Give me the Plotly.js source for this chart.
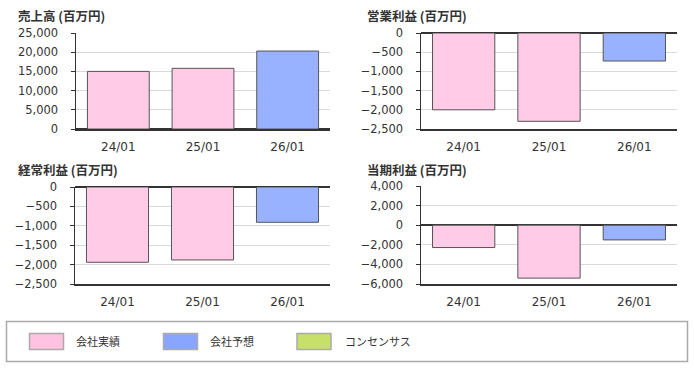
<!DOCTYPE html>
<html>
<head>
<meta charset="utf-8">
<script src="https://cdn.plot.ly/plotly-3.0.1.min.js"></script>
<style>html,body{margin:0;padding:0;background:#fff;}#chart{width:694px;height:368px;}</style>
</head>
<body>
<div id="chart"></div>
<script>
// ---- data ----
const categories = ['24/01', '25/01', '26/01'];
const barKinds = ['actual', 'actual', 'forecast'];
const salesValues = [15000, 15800, 20300];
const operatingValues = [-2000, -2300, -730];
const ordinaryValues = [-1940, -1880, -910];
const netValues = [-2280, -5400, -1500];
const panelTitles = ['売上高 (百万円)', '営業利益 (百万円)', '経常利益 (百万円)', '当期利益 (百万円)'];
const legendNames = ['会社実績', '会社予想', 'コンセンサス'];

// ---- styles ----
const W = 694, H = 368;
const barFill = {actual: '#ffcbe6', forecast: '#99b2ff'};
const legendFill = ['#ffc2e0', '#88a6ff', '#c6e06a'];
const px = v => v / W;
const py = v => 1 - v / H;

const panels = [
  {vals: salesValues, x: [76, 330], y: [33, 129], range: [0, 25000], dtick: 5000, tx: 17, ty: 16},
  {vals: operatingValues, x: [421, 677], y: [33, 129], range: [-2500, 0], dtick: 500, tx: 366, ty: 16},
  {vals: ordinaryValues, x: [75, 330], y: [187, 284], range: [-2500, 0], dtick: 500, tx: 17, ty: 170},
  {vals: netValues, x: [421, 677], y: [186, 284], range: [-6000, 4000], dtick: 2000, tx: 366, ty: 170}
];

const traces = [];
const layout = {
  width: W, height: H,
  margin: {l: 0, r: 0, t: 0, b: 0},
  paper_bgcolor: '#fff', plot_bgcolor: '#fff',
  showlegend: false,
  bargap: 0.27,
  font: {family: 'DejaVu Sans, sans-serif', color: '#333', size: 12},
  annotations: [],
  shapes: []
};

panels.forEach((p, i) => {
  const n = i === 0 ? '' : String(i + 1);
  traces.push({
    type: 'bar',
    x: categories,
    y: p.vals,
    xaxis: 'x' + n,
    yaxis: 'y' + n,
    marker: {color: barKinds.map(k => barFill[k]), line: {color: '#555', width: 1}},
    hoverinfo: 'skip'
  });
  layout['xaxis' + n] = {
    domain: [px(p.x[0]), px(p.x[1])],
    anchor: 'y' + n,
    type: 'category',
    range: [-0.5, 2.5],
    showgrid: false,
    showline: true, linecolor: '#333', linewidth: 2,
    ticks: '', ticklabelstandoff: 6,
    tickfont: {size: 12, color: '#333', family: 'DejaVu Sans, sans-serif'},
    fixedrange: true
  };
  layout['yaxis' + n] = {
    domain: [py(p.y[1]), py(p.y[0])],
    anchor: 'x' + n,
    range: p.range,
    dtick: p.dtick, tick0: 0,
    tickformat: ',d',
    showgrid: true, gridcolor: '#d9d9d9', gridwidth: 1,
    zeroline: true, zerolinecolor: '#333', zerolinewidth: 2,
    showline: true, linecolor: '#333', linewidth: 1.5,
    ticks: 'outside', ticklen: 4, tickcolor: '#333',
    ticklabelstandoff: 10,
    tickfont: {size: 11.5, color: '#333', family: 'DejaVu Sans, sans-serif'},
    fixedrange: true
  };
  layout.annotations.push({
    xref: 'paper', yref: 'paper', x: px(p.tx), y: py(p.ty),
    xanchor: 'left', yanchor: 'middle', showarrow: false,
    borderpad: 0,
    text: '<b>' + panelTitles[i] + '</b>',
    font: {size: 12.5, color: '#333', family: 'Noto Sans CJK JP, sans-serif'}
  });
});

// legend box
layout.shapes.push({
  type: 'rect', xref: 'paper', yref: 'paper',
  x0: px(6.5), x1: px(687.5), y0: py(361.5), y1: py(321.5),
  line: {color: '#aaa', width: 1.5}, fillcolor: 'rgba(0,0,0,0)'
});
const swX = [29.5, 163.5, 297];
const txX = [74, 208, 343];
legendNames.forEach((name, i) => {
  layout.shapes.push({
    type: 'rect', xref: 'paper', yref: 'paper',
    x0: px(swX[i]), x1: px(swX[i] + 34), y0: py(349.5), y1: py(333.5),
    line: {color: '#aaa', width: 1.5}, fillcolor: legendFill[i]
  });
  layout.annotations.push({
    xref: 'paper', yref: 'paper', x: px(txX[i]), y: py(341),
    xanchor: 'left', yanchor: 'middle', showarrow: false,
    text: name,
    font: {size: 11, color: '#333', family: 'Noto Sans CJK JP, sans-serif'}
  });
});

Plotly.newPlot('chart', traces, layout, {displayModeBar: false, staticPlot: true});
</script>
</body>
</html>
